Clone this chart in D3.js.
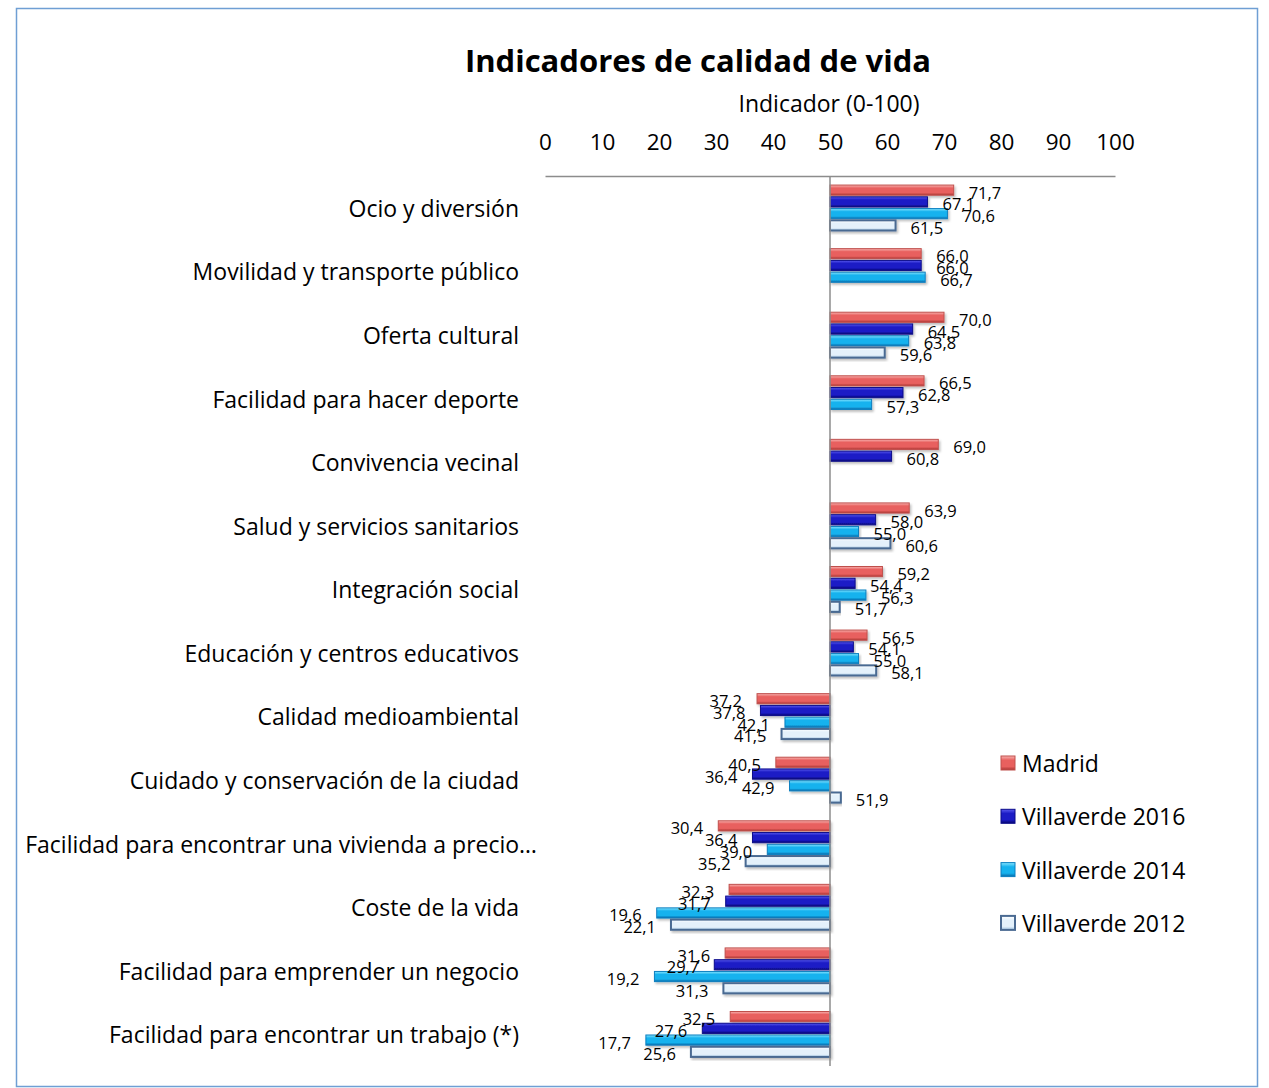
<!DOCTYPE html>
<html>
<head>
<meta charset="utf-8">
<script src="https://cdn.jsdelivr.net/npm/d3@7"></script>
<style>
  body { margin: 0; background: #fff; }
  svg { display: block; font-family: "Open Sans", sans-serif; }
</style>
</head>
<body>
<svg id="chart" width="1269" height="1088"></svg>
<script>
// categories, top to bottom
var categories = [
    "Ocio y diversión",
    "Movilidad y transporte público",
    "Oferta cultural",
    "Facilidad para hacer deporte",
    "Convivencia vecinal",
    "Salud y servicios sanitarios",
    "Integración social",
    "Educación y centros educativos",
    "Calidad medioambiental",
    "Cuidado y conservación de la ciudad",
    "Facilidad para encontrar una vivienda a precio…",
    "Coste de la vida",
    "Facilidad para emprender un negocio",
    "Facilidad para encontrar un trabajo (*)"
];

var seriesNames = ["Madrid", "Villaverde 2016", "Villaverde 2014", "Villaverde 2012"];

var madrid   = [71.7, 66.0, 70.0, 66.5, 69.0, 63.9, 59.2, 56.5, 37.2, 40.5, 30.4, 32.3, 31.6, 32.5];
var vill2016 = [67.1, 66.0, 64.5, 62.8, 60.8, 58.0, 54.4, 54.1, 37.8, 36.4, 36.4, 31.7, 29.7, 27.6];
var vill2014 = [70.6, 66.7, 63.8, 57.3, null, 55.0, 56.3, 55.0, 42.1, 42.9, 39.0, 19.6, 19.2, 17.7];
var vill2012 = [61.5, null, 59.6, null, null, 60.6, 51.7, 58.1, 41.5, 51.9, 35.2, 22.1, 31.3, 25.6];

var xTicks = [0, 10, 20, 30, 40, 50, 60, 70, 80, 90, 100];
var baseValue = 50;

var seriesValues = [madrid, vill2016, vill2014, vill2012];

var svg = d3.select("#chart");

// outer frame
svg.append("rect")
    .attr("x", 16.5).attr("y", 8.5)
    .attr("width", 1241).attr("height", 1078)
    .attr("fill", "none")
    .attr("stroke", "#6f9fd4")
    .attr("stroke-width", 1.5);

//////////// GRADIENTS ////////////
var styles = [
    { top: "#f8b4b2", mid: "#e8605e", bot: "#a83432", stroke: "#c0504d", sw: 1 },
    { top: "#5a5aee", mid: "#1c1cc6", bot: "#06066e", stroke: "#0a0a8a", sw: 1 },
    { top: "#8ae6ff", mid: "#16b2ee", bot: "#0667a6", stroke: "#0b7fc0", sw: 1 },
    { top: "#ffffff", mid: "#e4f1fb", bot: "#9fc2e0", stroke: "#4a6a92", sw: 2 }
];

var defs = svg.append("defs");
styles.forEach(function (s, i) {
    var g = defs.append("linearGradient")
        .attr("id", "grad" + i)
        .attr("x1", 0).attr("y1", 0).attr("x2", 0).attr("y2", 1);
    g.append("stop").attr("offset", "0%").attr("stop-color", s.top);
    g.append("stop").attr("offset", "30%").attr("stop-color", s.mid);
    g.append("stop").attr("offset", "75%").attr("stop-color", s.mid);
    g.append("stop").attr("offset", "100%").attr("stop-color", s.bot);
});
var shadow = defs.append("filter").attr("id", "shadow")
    .attr("x", "-5%").attr("y", "-20%").attr("width", "115%").attr("height", "160%");
shadow.append("feDropShadow")
    .attr("dx", 1.5).attr("dy", 2).attr("stdDeviation", 1.2)
    .attr("flood-color", "#000").attr("flood-opacity", 0.25);

//////////// SCALES ////////////
var x = d3.scaleLinear().domain([0, 100]).range([545, 1115]);

var y = d3.scaleBand()
    .domain(categories)
    .range([176, 1066])
    .paddingInner(0.26)
    .paddingOuter(0.13);

var ySub = d3.scaleBand()
    .domain(d3.range(seriesNames.length))
    .range([0, y.bandwidth()]);

//////////// TITLES ////////////
svg.append("text")
    .attr("x", 698).attr("y", 60)
    .attr("text-anchor", "middle")
    .attr("dominant-baseline", "central")
    .style("font-size", "31px")
    .style("font-weight", "bold")
    .text("Indicadores de calidad de vida");

svg.append("text")
    .attr("x", 829).attr("y", 103)
    .attr("text-anchor", "middle")
    .attr("dominant-baseline", "central")
    .style("font-size", "23px")
    .text("Indicador (0-100)");

//////////// AXES ////////////
var xAxis = d3.axisTop(x).tickValues(xTicks).tickSize(0).tickPadding(0);
var gx = svg.append("g")
    .attr("transform", "translate(0,176)")
    .call(xAxis);
gx.select(".domain").attr("stroke", "#8c8c8c").attr("stroke-width", 1.5);
gx.selectAll("text")
    .attr("y", -35)
    .attr("dy", null)
    .attr("dominant-baseline", "central")
    .attr("fill", "#000")
    .style("font-size", "22.5px")
    .style("font-family", "'Open Sans', sans-serif");

// category labels
svg.append("g").selectAll("text")
    .data(categories)
    .enter().append("text")
    .attr("x", function (d, i) { return i === 10 ? 537 : 519; })
    .attr("y", function (d) { return y(d) + y.bandwidth() / 2; })
    .attr("text-anchor", "end")
    .attr("dominant-baseline", "central")
    .style("font-size", "23px")
    .text(function (d) { return d; });

//////////// BARS ////////////
var barData = [];
categories.forEach(function (c, i) {
    seriesValues.forEach(function (vals, s) {
        if (vals[i] != null) barData.push({ cat: c, s: s, v: vals[i] });
    });
});

var bars = svg.append("g").selectAll("rect")
    .data(barData)
    .enter().append("rect")
    .attr("x", function (d) { return Math.min(x(d.v), x(baseValue)); })
    .attr("y", function (d) { return y(d.cat) + ySub(d.s) + 0.8; })
    .attr("width", function (d) { return Math.abs(x(d.v) - x(baseValue)); })
    .attr("height", ySub.bandwidth() - 1.6)
    .attr("fill", function (d) { return "url(#grad" + d.s + ")"; })
    .attr("stroke", function (d) { return styles[d.s].stroke; })
    .attr("stroke-width", function (d) { return styles[d.s].sw; })
    .attr("filter", "url(#shadow)");

// vertical axis at 50
svg.append("line")
    .attr("x1", x(baseValue)).attr("x2", x(baseValue))
    .attr("y1", 176).attr("y2", 1066)
    .attr("stroke", "#8c8c8c")
    .attr("stroke-width", 1.5);

// value labels
svg.append("g").selectAll("text")
    .data(barData)
    .enter().append("text")
    .attr("x", function (d) { return d.v >= baseValue ? x(d.v) + 15 : x(d.v) - 15; })
    .attr("y", function (d) { return y(d.cat) + ySub(d.s) + ySub.bandwidth() / 2 + 2; })
    .attr("text-anchor", function (d) { return d.v >= baseValue ? "start" : "end"; })
    .attr("dominant-baseline", "central")
    .style("font-size", "16.5px")
    .text(function (d) { return d.v.toFixed(1).replace(".", ","); });

//////////// LEGEND ////////////
var legend = svg.append("g").selectAll("g")
    .data(seriesNames)
    .enter().append("g")
    .attr("transform", function (d, i) { return "translate(1001," + (763 + i * 53.3) + ")"; });

legend.append("rect")
    .attr("x", 0).attr("y", -7)
    .attr("width", 14).attr("height", 14)
    .attr("fill", function (d, i) { return "url(#grad" + i + ")"; })
    .attr("stroke", function (d, i) { return styles[i].stroke; })
    .attr("stroke-width", function (d, i) { return styles[i].sw; });

legend.append("text")
    .attr("x", 21).attr("y", 0)
    .attr("dominant-baseline", "central")
    .style("font-size", "23px")
    .text(function (d) { return d; });
</script>
</body>
</html>
